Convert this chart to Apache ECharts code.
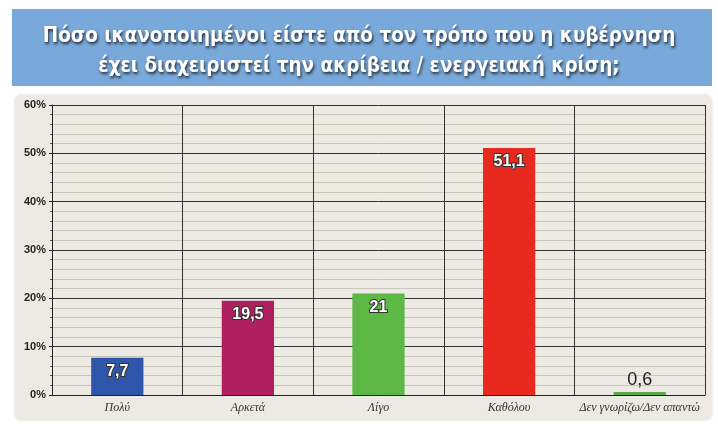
<!DOCTYPE html>
<html>
<head>
<meta charset="utf-8">
<style>
  html, body { margin: 0; padding: 0; background: #fff; }
  #chart { width: 718px; height: 432px; }
</style>
<script src="https://cdn.jsdelivr.net/npm/echarts@6/dist/echarts.min.js"></script>
</head>
<body>
<div id="chart"></div>
<script>
const titleLines = [
  'Πόσο ικανοποιημένοι είστε από τον τρόπο που η κυβέρνηση',
  'έχει διαχειριστεί την ακρίβεια / ενεργειακή κρίση;'
]
const categories = ['Πολύ', 'Αρκετά', 'Λίγο', 'Καθόλου', 'Δεν γνωρίζω/Δεν απαντώ']
const values = [7.7, 19.5, 21, 51.1, 0.6]
const barColors = ['#2f56a8', '#b01f5f', '#5db846', '#e8291f', '#5ca84a']
const yTicks = [0, 10, 20, 30, 40, 50, 60]

const chart = echarts.init(document.getElementById('chart'))

// τιμές με κόμμα όπως στο πρωτότυπο
const fmt = (v) => String(v).replace('.', ',')

const data = values.map((v, i) => {
  const small = v < 5
  return {
    value: v,
    itemStyle: { color: barColors[i] },
    label: small
      ? { position: 'top', color: '#222', fontWeight: 'normal', fontSize: 18, textBorderWidth: 0, distance: 3 }
      : { position: 'insideTop', distance: 6 }
  }
})

const option = {
  backgroundColor: '#fff',
  animation: false,
  title: {
    text: titleLines.join('\n'),
    left: 'center',
    top: 17,
    textStyle: {
      color: '#fff',
      fontFamily: 'DejaVu Sans Condensed',
      fontWeight: 'bold',
      fontSize: 20.5,
      lineHeight: 30,
      textShadowColor: 'rgba(0,0,0,0.75)',
      textShadowBlur: 3,
      textShadowOffsetX: 1,
      textShadowOffsetY: 2
    }
  },
  graphic: [
    {
      type: 'rect', z: -10,
      shape: { x: 12, y: 9, width: 700, height: 77 },
      style: { fill: '#79a9da' }
    },
    {
      type: 'rect', z: -10,
      shape: { x: 15, y: 95, width: 697, height: 325, r: 6 },
      style: { fill: '#eceae3', shadowColor: 'rgba(0,0,0,0.15)', shadowBlur: 3 }
    }
  ],
  grid: { left: 52, right: 13, top: 105, bottom: 37 },
  xAxis: {
    type: 'category',
    data: categories,
    axisLine: { lineStyle: { color: '#222', width: 1 } },
    axisTick: { alignWithLabel: true, length: 3, lineStyle: { color: '#222' } },
    axisLabel: {
      interval: 0,
      fontFamily: 'Liberation Serif', fontStyle: 'italic',
      fontSize: 12, color: '#333', margin: 7
    },
    splitLine: { show: true, interval: 0, lineStyle: { color: '#333', width: 1 } }
  },
  yAxis: {
    type: 'value',
    min: yTicks[0],
    max: yTicks[yTicks.length - 1],
    interval: 10,
    axisLine: { show: true, lineStyle: { color: '#222' } },
    axisTick: { show: true, length: 3, lineStyle: { color: '#222' } },
    minorTick: { show: true, splitNumber: 5, length: 2, lineStyle: { color: '#555' } },
    axisLabel: {
      formatter: '{value}%',
      fontFamily: 'Liberation Sans', fontWeight: 'bold',
      fontSize: 11, color: '#222', margin: 6
    },
    splitLine: { lineStyle: { color: '#333', width: 1 } },
    minorSplitLine: { show: true, lineStyle: { color: '#c9c6bd', width: 1 } }
  },
  series: [{
    type: 'bar',
    data,
    barWidth: '40%',
    label: {
      show: true,
      formatter: (p) => fmt(p.value),
      color: '#fff',
      fontFamily: 'Liberation Sans',
      fontWeight: 'bold',
      fontSize: 16,
      textBorderColor: '#333',
      textBorderWidth: 2
    }
  }]
}

chart.setOption(option)
</script>
</body>
</html>
